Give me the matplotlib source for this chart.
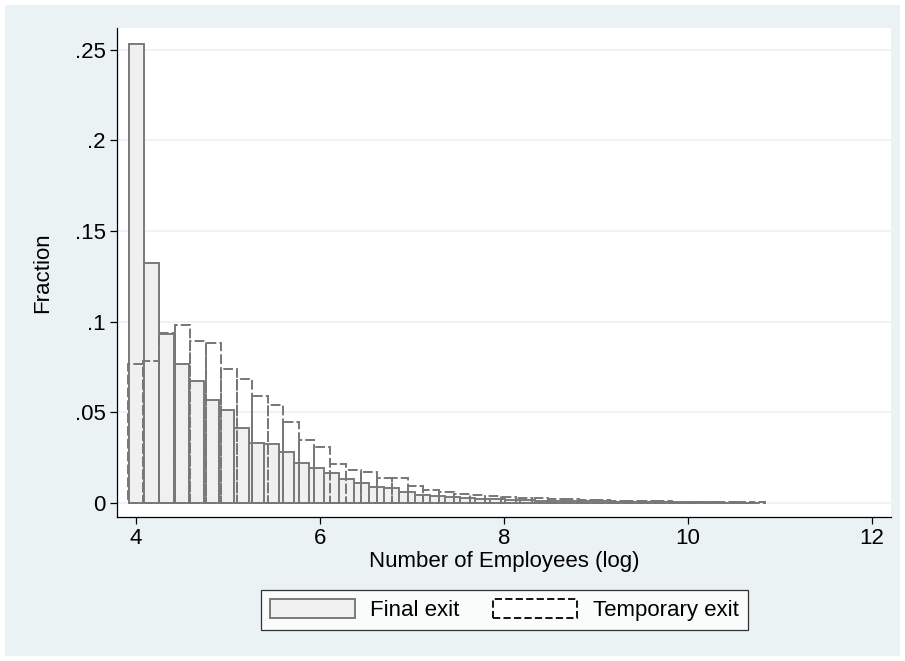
import matplotlib
matplotlib.use("Agg")
import matplotlib.pyplot as plt
from matplotlib.patches import Rectangle, Patch
import numpy as np

plt.rcParams['font.family'] = ['Liberation Sans', 'DejaVu Sans']

# Histogram data (fraction per bin), log number of employees
final_start = 3.920
final_width = 0.1636
final_frac = [0.253, 0.1325, 0.0931, 0.0765, 0.0673, 0.0567, 0.0512, 0.0410,
              0.0328, 0.0322, 0.0281, 0.0217, 0.0190, 0.0162, 0.0129, 0.0110,
              0.0088, 0.0080, 0.0058, 0.0045, 0.0038, 0.0030, 0.0026, 0.0021,
              0.0018, 0.0015, 0.0013, 0.0011, 0.0010, 0.0009, 0.0008, 0.0007,
              0.0006, 0.0005, 0.0005, 0.0004, 0.0003, 0.0003, 0.0002, 0.0, 0.0002]

temp_start = 3.912
temp_width = 0.169
temp_frac = [0.0765, 0.0784, 0.0938, 0.0981, 0.0894, 0.0880, 0.0740, 0.0681,
             0.0589, 0.0539, 0.0446, 0.0348, 0.0305, 0.0212, 0.0180, 0.0168,
             0.0138, 0.0135, 0.0090, 0.0072, 0.0058, 0.0050, 0.0042, 0.0036,
             0.0031, 0.0027, 0.0024, 0.0021, 0.0018, 0.0016, 0.0014, 0.0012,
             0.0010, 0.0009, 0.0008, 0.0, 0.0004, 0.0004, 0.0003, 0.0, 0.0003]

yticks = [0, 0.05, 0.10, 0.15, 0.20, 0.25]
ytick_labels = ["0", ".05", ".1", ".15", ".2", ".25"]
xticks = [4, 6, 8, 10, 12]

FS = 16
W, H = 905, 661
fig = plt.figure(figsize=(W / 100, H / 100), dpi=100)
fig.patch.set_facecolor('white')
bg = Rectangle((5 / W, 5 / H), (W - 10) / W, (H - 10) / H, transform=fig.transFigure,
               facecolor='#eaf2f3', edgecolor='none', zorder=-10)
fig.patches.append(bg)

ax = fig.add_axes([117 / W, 1 - 517 / H, (891 - 117) / W, (517 - 28) / H])
ax.set_facecolor('white')

fx = final_start + final_width * np.arange(len(final_frac))
tx = temp_start + temp_width * np.arange(len(temp_frac))

ax.bar(fx, final_frac, width=final_width, align='edge', facecolor='#f0f0f0',
       edgecolor='#7a7a7a', linewidth=1.4, zorder=2)
ax.bar(tx, temp_frac, width=temp_width, align='edge', facecolor='none',
       edgecolor='#777777', linewidth=1.4, linestyle=(0, (5, 1.6)), zorder=3)

ax.set_xlim(3.793, 12.21)
ax.set_ylim(-0.0079, 0.262)
ax.set_yticks(yticks)
ax.set_yticklabels(ytick_labels)
ax.set_xticks(xticks)
ax.yaxis.grid(True, color='#eaf2f3', linewidth=1.2, zorder=0)
ax.set_axisbelow(True)
for s in ['top', 'right']:
    ax.spines[s].set_visible(False)
for s in ['left', 'bottom']:
    ax.spines[s].set_color('black')
    ax.spines[s].set_linewidth(0.9)
ax.tick_params(axis='both', direction='out', length=5, width=0.9, labelsize=FS,
               colors='black')
ax.tick_params(axis='y', pad=3)
ax.tick_params(axis='x', pad=3)

ax.set_xlabel("Number of Employees (log)", fontsize=FS, labelpad=1)
ax.set_ylabel("Fraction", fontsize=FS, labelpad=16)

handles = [Patch(facecolor='#f0f0f0', edgecolor='#7a7a7a', linewidth=1.4),
           Patch(facecolor='white', edgecolor='black', linewidth=1.3, linestyle=(0, (4, 1.8)))]
leg = fig.legend(handles, ["Final exit", "Temporary exit"], ncol=2,
                 loc='center', bbox_to_anchor=(504.5 / W, 1 - 610 / H),
                 frameon=True, fancybox=False, fontsize=FS,
                 handlelength=3.8, handleheight=0.95, columnspacing=1.5,
                 handletextpad=0.7, borderpad=0.4, borderaxespad=0)
leg.get_frame().set_edgecolor('black')
leg.get_frame().set_linewidth(0.9)
leg.get_frame().set_facecolor('white')

fig.savefig("out.png", dpi=100, facecolor=fig.get_facecolor())
